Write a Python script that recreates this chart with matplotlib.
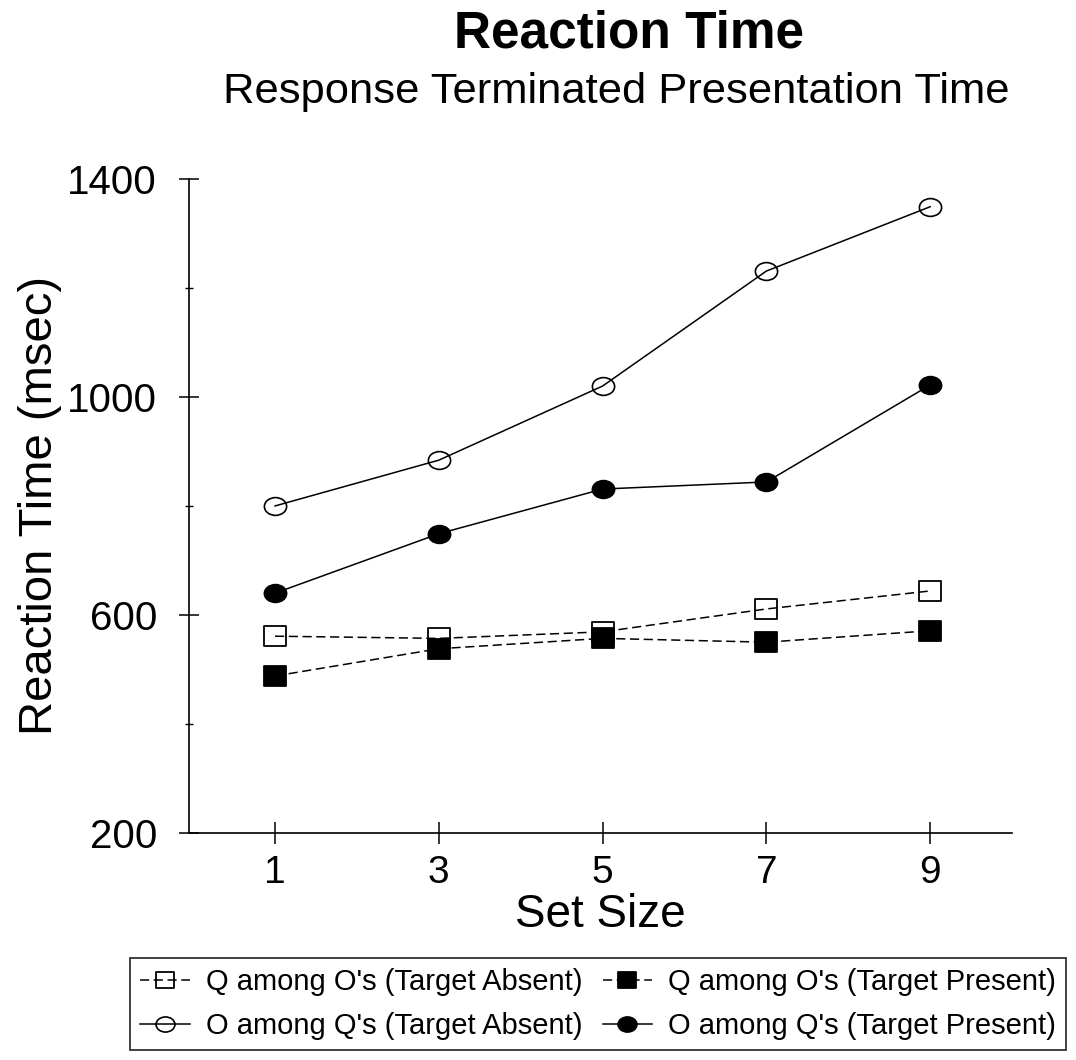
import matplotlib
matplotlib.use("Agg")
import matplotlib.pyplot as plt
from matplotlib.path import Path
from matplotlib.transforms import Affine2D

plt.rcParams['font.family'] = ['Liberation Sans', 'DejaVu Sans']

# data
set_size = [1, 3, 5, 7, 9]
q_among_o_absent = [561, 557, 569, 611, 644]
q_among_o_present = [488, 538, 557, 550, 571]
o_among_q_absent = [800, 884, 1020, 1231, 1349]
o_among_q_present = [640, 749, 831, 844, 1022]

labels = ["Q among O's (Target Absent)", "Q among O's (Target Present)",
          "O among Q's (Target Absent)", "O among Q's (Target Present)"]

yticks_major = [200, 600, 1000, 1400]
yticks_minor = [400, 800, 1200]

# slightly wide markers like the scanned original
ellipse = Path.unit_circle().transformed(Affine2D().scale(1.25, 1.0))
rect = Path.unit_rectangle().transformed(Affine2D().translate(-0.5, -0.5).scale(1.16, 1.0))

fig = plt.figure(figsize=(10.76, 10.6), dpi=100)
ax = fig.add_axes([0.1757, 0.2142, 0.7649, 0.617])

dash = (0, (6, 3))
h1, = ax.plot(set_size, q_among_o_absent, color='black', lw=1.1, ls=dash,
              marker=rect, ms=16, mfc='none', mec='black', mew=1.3)
h2, = ax.plot(set_size, q_among_o_present, color='black', lw=1.1, ls=dash,
              marker=rect, ms=16, mfc='black', mec='black', mew=1.3)
h3, = ax.plot(set_size, o_among_q_absent, color='black', lw=1.1, ls='-',
              marker=ellipse, ms=16, mfc='none', mec='black', mew=1.2)
h4, = ax.plot(set_size, o_among_q_present, color='black', lw=1.1, ls='-',
              marker=ellipse, ms=16, mfc='black', mec='black', mew=1.2)

ax.set_xlim(-0.05, 10)
ax.set_ylim(200, 1400)
ax.set_xticks(set_size)
ax.set_yticks(yticks_major)
ax.set_yticks(yticks_minor, minor=True)

ax.spines['top'].set_visible(False)
ax.spines['right'].set_visible(False)
ax.spines['left'].set_linewidth(1.2)
ax.spines['bottom'].set_linewidth(1.2)

ax.tick_params(axis='y', which='major', direction='inout', length=15, width=1.1,
               labelsize=29, pad=15.5)
ax.tick_params(axis='y', which='minor', direction='inout', length=6, width=1.0)
ax.tick_params(axis='x', which='major', direction='inout', length=16, width=1.1,
               labelsize=28, pad=8)

ax.set_xlabel('Set Size', fontsize=33)
ax.xaxis.set_label_coords(0.5, -0.092)
ax.set_ylabel('Reaction Time (msec)', fontsize=34)
ax.yaxis.set_label_coords(-0.154, 0.5)

fig.text(0.585, 1 - 47 / 1060, 'Reaction Time', fontsize=37, fontweight='bold',
         ha='center', va='baseline')
fig.text(616 / 1076, 1 - 103 / 1060, 'Response Terminated Presentation Time',
         fontsize=31.3, ha='center', va='baseline')

# legend fills by column, so order handles to get rows like the original
leg = fig.legend([h1, h3, h2, h4], [labels[0], labels[2], labels[1], labels[3]],
                 ncol=2, loc='center',
                 bbox_to_anchor=(598 / 1076, 1 - 1004 / 1060), fontsize=21,
                 frameon=True, fancybox=False, handlelength=1.7, handletextpad=0.55,
                 columnspacing=0.7, labelspacing=0.55, borderpad=0.35,
                 markerscale=0.85)
leg.get_frame().set_edgecolor('black')
leg.get_frame().set_linewidth(1.3)

fig.savefig('out.png', dpi=100)
